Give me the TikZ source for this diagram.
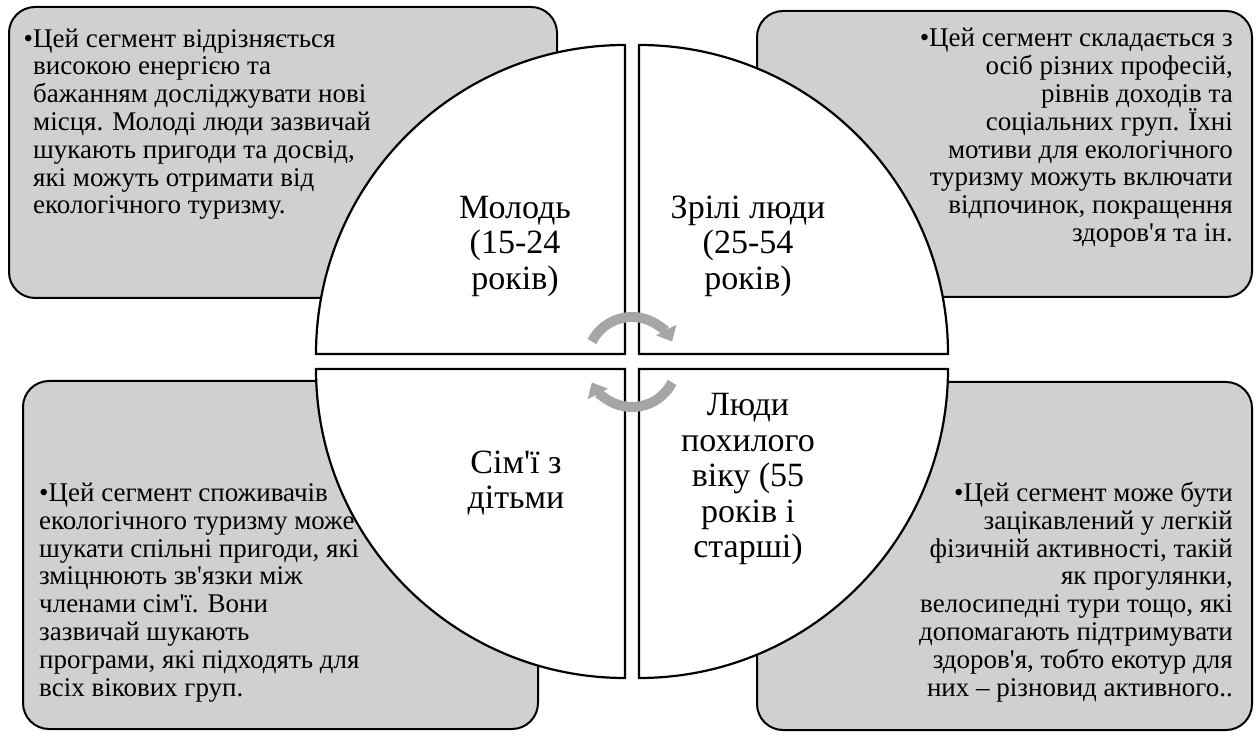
\documentclass[tikz,border=0pt]{standalone}
\usepackage{fontspec}
\setmainfont{Liberation Serif}
\usetikzlibrary{arrows.meta}
\definecolor{boxgray}{RGB}{208,208,208}
\definecolor{arrgray}{RGB}{166,166,166}
\newcommand\ap{\textquotesingle}
\begin{document}
\begin{tikzpicture}[x=1pt,y=1pt,
  sidebox/.style={draw=black,line width=2pt,fill=boxgray,rounded corners=26pt},
  quad/.style={draw=black,line width=2.2pt,fill=white},
  desc/.style={inner sep=0pt,font=\fontsize{27}{27.8}\selectfont},
  qlabel/.style={inner sep=0pt,align=center,font=\fontsize{34}{35.5}\selectfont},
  cyc/.style={draw=arrgray,line width=10pt,-{Triangle[length=13pt,width=22pt]}}
]
\useasboundingbox (0,0) rectangle (1257,731);
% side boxes
\path[sidebox] (9,433) rectangle (557,724);
\path[sidebox] (757,434) rectangle (1252,720);
\path[sidebox] (23,2) rectangle (538,350);
\path[sidebox] (757,1) rectangle (1252,349);
% quadrants
\path[quad] (625,377) -- (316,377) arc[start angle=180,end angle=90,radius=309] -- cycle;
\path[quad] (639,377) -- (639,686) arc[start angle=90,end angle=0,radius=309] -- cycle;
\path[quad] (625,362) -- (316,362) arc[start angle=180,end angle=270,radius=309] -- cycle;
\path[quad] (639,362) -- (948,362) arc[start angle=0,end angle=-90,radius=309] -- cycle;
% cycle arrows
\coordinate (c) at (632,369);
\draw[cyc] (c) ++(153:45) arc[start angle=153,end angle=27,radius=45];
\draw[cyc] (c) ++(-27:45) arc[start angle=-27,end angle=-153,radius=45];
% quadrant labels
\node[qlabel] (young) at (515,485) {Молодь\\(15-24\\років)};
\node[qlabel] (adult) at (748,485) {Зрілі люди\\(25-54\\років)};
\node[qlabel] (family) at (516,248) {Сім\ap ї з\\дітьми};
\node[qlabel] (senior) at (748,252) {Люди\\похилого\\віку (55\\років і\\старші)};
% descriptions (anchored at the baseline of the last line)
\node[desc,anchor=base west,align=left] (tltext) at (33,517)
 {\llap{•}Цей сегмент відрізняється\\високою енергією та\\бажанням досліджувати нові\\місця. Молоді люди зазвичай\\шукають пригоди та досвід,\\які можуть отримати від\\екологічного туризму.};
\node[desc,anchor=base east,align=right] (trtext) at (1233,489.5)
 {•Цей сегмент складається з\\осіб різних професій,\\рівнів доходів та\\соціальних груп. Їхні\\мотиви для екологічного\\туризму можуть включати\\відпочинок, покращення\\здоров\ap я та ін.};
\node[desc,anchor=base west,align=left] (bltext) at (39,35)
 {•Цей сегмент споживачів\\екологічного туризму може\\шукати спільні пригоди, які\\зміцнюють зв\ap язки між\\членами сім\ap ї. Вони\\зазвичай шукають\\програми, які підходять для\\всіх вікових груп.};
\node[desc,anchor=base east,align=right] (brtext) at (1233,35)
 {•Цей сегмент може бути\\зацікавлений у легкій\\фізичній активності, такій\\як прогулянки,\\велосипедні тури тощо, які\\допомагають підтримувати\\здоров\ap я, тобто екотур для\\них – різновид активного..};
\end{tikzpicture}
\end{document}
